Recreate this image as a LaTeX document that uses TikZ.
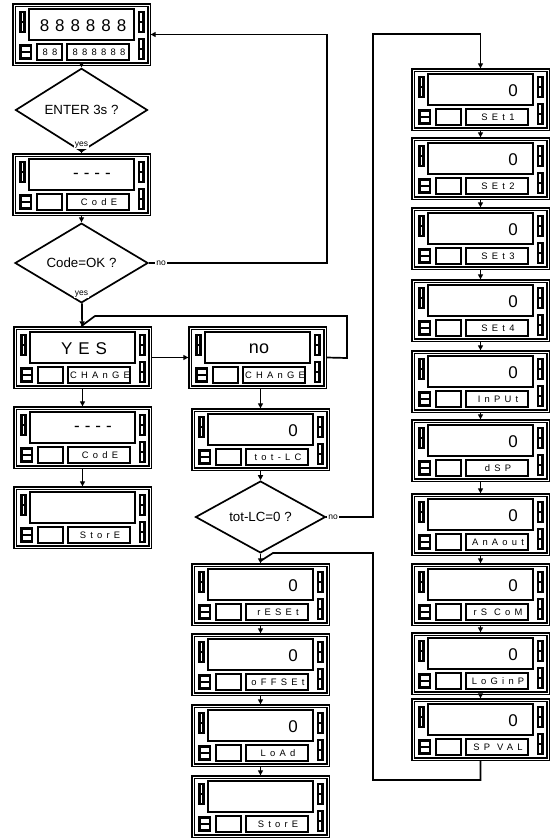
\documentclass[tikz,border=0pt]{standalone}
\usepackage{fontspec}
\setmainfont{Liberation Sans}
\newfontfamily\dispfont{Liberation Sans}[LetterSpace=35]
\newfontfamily\labfont{Liberation Sans}[LetterSpace=45]
\usetikzlibrary{arrows.meta,shapes.geometric}
\tikzset{
  frame/.style={draw, line width=1.3pt, double=white, double distance=0.7pt, minimum width=135pt, minimum height=59pt, inner sep=0pt, outer sep=1.65pt},
  seg/.style={draw, line width=2.1pt},
  disp/.style={draw, line width=1.7pt},
  maintext/.style={font=\dispfont\fontsize{17}{17}\selectfont, inner sep=0pt},
  labtext/.style={font=\labfont\fontsize{9.4}{10}\selectfont, inner sep=0pt},
  dec/.style={diamond, draw, line width=1.7pt, inner sep=0pt, font=\fontsize{13.3}{14}\selectfont, outer sep=0.85pt},
  conn/.style={draw, line width=1.7pt},
  arr/.style={conn, -{Triangle[length=5pt,width=5pt]}},
  tag/.style={font=\fontsize{8.5}{9}\selectfont, fill=white, inner sep=1pt},
}
% #1 name, #2 left x, #3 top y, #4 main rel x, #5 main anchor, #6 main text, #7 label
\newcommand\dispbox[7]{%
  \node[frame] (#1) at ({#2+67.5},{#3+29.5}) {};
  \begin{scope}[shift={(#2,#3)}]
    \draw[seg] (6.5,7) rectangle (10.5,17) (6.5,17) rectangle (10.5,27);
    \draw[seg] (125,7) rectangle (129.5,17) (125,17) rectangle (129.5,27);
    \draw[seg] (125,34) rectangle (129.5,44) (125,44) rectangle (129.5,54);
    \draw[seg] (6.5,40.5) rectangle (17,47) (6.5,47) rectangle (17,53.5);
    \draw[disp] (15,4) rectangle (120,35);
    \draw[disp] (23,39) rectangle (48,55);
    \draw[disp] (53,39) rectangle (115,55);
    \node[maintext, anchor=#5] (#1m) at (#4,21) {#6};
    \node[labtext] (#1l) at (85,47) {#7};
  \end{scope}}
\newcommand\dashes{{\fontsize{17}{17}\selectfont -\hspace{5pt}-\hspace{5pt}-\hspace{5pt}-}}
\begin{document}
\begin{tikzpicture}[x=1pt,y=-1pt]
\useasboundingbox (0,0) rectangle (552,838);
% left column
\dispbox{b1}{14}{5}{69}{center}{888888}{888888}
\node[labtext] (b1s) at (50,52) {88};
\node[dec, minimum width=132pt, minimum height=44pt] (d1) at (81.5,110) {ENTER 3s ?};
\dispbox{b2}{14}{155}{78}{center}{\dashes}{CodE}
\node[dec, minimum width=133pt, minimum height=44pt] (d2) at (81.5,263) {Code=OK ?};
\dispbox{b3}{15}{328}{69}{center}{YES}{CHAnGE}
\dispbox{b4}{15}{408}{78}{center}{\dashes}{CodE}
\dispbox{b5}{15}{488}{69}{center}{}{StorE}
% middle column
\dispbox{b6}{190}{328}{69}{center}{\setmainfont{Liberation Sans}\fontsize{18}{18}\selectfont no}{CHAnGE}
\dispbox{b7}{193}{410}{105}{east}{0}{tot-LC}
\node[dec, minimum width=130pt, minimum height=48pt] (d3) at (260.5,517) {tot-LC=0 ?};
\dispbox{b8}{193}{565}{105}{east}{0}{rESEt}
\dispbox{b9}{193}{635}{105}{east}{0}{oFFSEt}
\dispbox{b10}{193}{706}{105}{east}{0}{LoAd}
\dispbox{b11}{193}{777}{69}{center}{}{StorE}
% right column
\dispbox{r1}{413}{70}{105}{east}{0}{SEt1}
\dispbox{r2}{413}{139}{105}{east}{0}{SEt2}
\dispbox{r3}{413}{209}{105}{east}{0}{SEt3}
\dispbox{r4}{413}{281}{105}{east}{0}{SEt4}
\dispbox{r5}{413}{352}{105}{east}{0}{InPUt}
\dispbox{r6}{413}{421}{105}{east}{0}{dSP}
\dispbox{r7}{413}{495}{105}{east}{0}{AnAout}
\dispbox{r8}{413}{565}{105}{east}{0}{rS CoM}
\dispbox{r9}{413}{634}{105}{east}{0}{LoGinP}
\dispbox{r10}{413}{700}{105}{east}{0}{SP VAL}
% helper coordinates
\coordinate (c2a) at (327,263);
\coordinate (c2b) at (327,34.5);
\coordinate (y1a) at (347,358);
\coordinate (y1b) at (347,316);
\coordinate (y1c) at (95,316);
\coordinate (y1d) at (81.5,326);
\coordinate (n3a) at (373,517);
\coordinate (n3b) at (373,34);
\coordinate (n3c) at (480.5,34);
\coordinate (ra) at (480.5,780);
\coordinate (rb) at (373,780);
\coordinate (rc) at (373,553);
\coordinate (rd) at (273,553);
\coordinate (re) at (260.5,561);
% connectors
\draw[arr] (b1) -- (d1);
\draw[arr] (d1) -- (b2);
\node[tag] (t1) at (81.5,145) {yes};
\draw[arr] (b2) -- (d2);
\draw[arr] (d2.east) -- (c2a) -- (c2b) -- (b1.east);
\node[tag] (t2) at (161,263) {no};
\draw[arr] (d2) -- (b3);
\node[tag] (t3) at (81.5,294) {yes};
\draw[arr] (b3) -- (b6);
\draw[conn] (b6.east) -- (y1a) -- (y1b) -- (y1c) -- (y1d);
\draw[arr] (b3) -- (b4);
\draw[arr] (b4) -- (b5);
\draw[arr] (b6.south -| b7.north) -- (b7.north);
\draw[arr] (b7) -- (d3);
\draw[arr] (d3.east) -- (n3a) -- (n3b) -- (n3c) -- (r1.north);
\node[tag] (t4) at (333,517) {no};
\draw[arr] (d3) -- (b8);
\draw[arr] (b8) -- (b9);
\draw[arr] (b9) -- (b10);
\draw[arr] (b10) -- (b11);
\draw[arr] (r1) -- (r2);
\draw[arr] (r2) -- (r3);
\draw[arr] (r3) -- (r4);
\draw[arr] (r4) -- (r5);
\draw[arr] (r5) -- (r6);
\draw[arr] (r6) -- (r7);
\draw[arr] (r7) -- (r8);
\draw[arr] (r8) -- (r9);
\draw[arr] (r9) -- (r10);
\draw[conn] (r10.south) -- (ra) -- (rb) -- (rc) -- (rd) -- (re);
\end{tikzpicture}
\end{document}
